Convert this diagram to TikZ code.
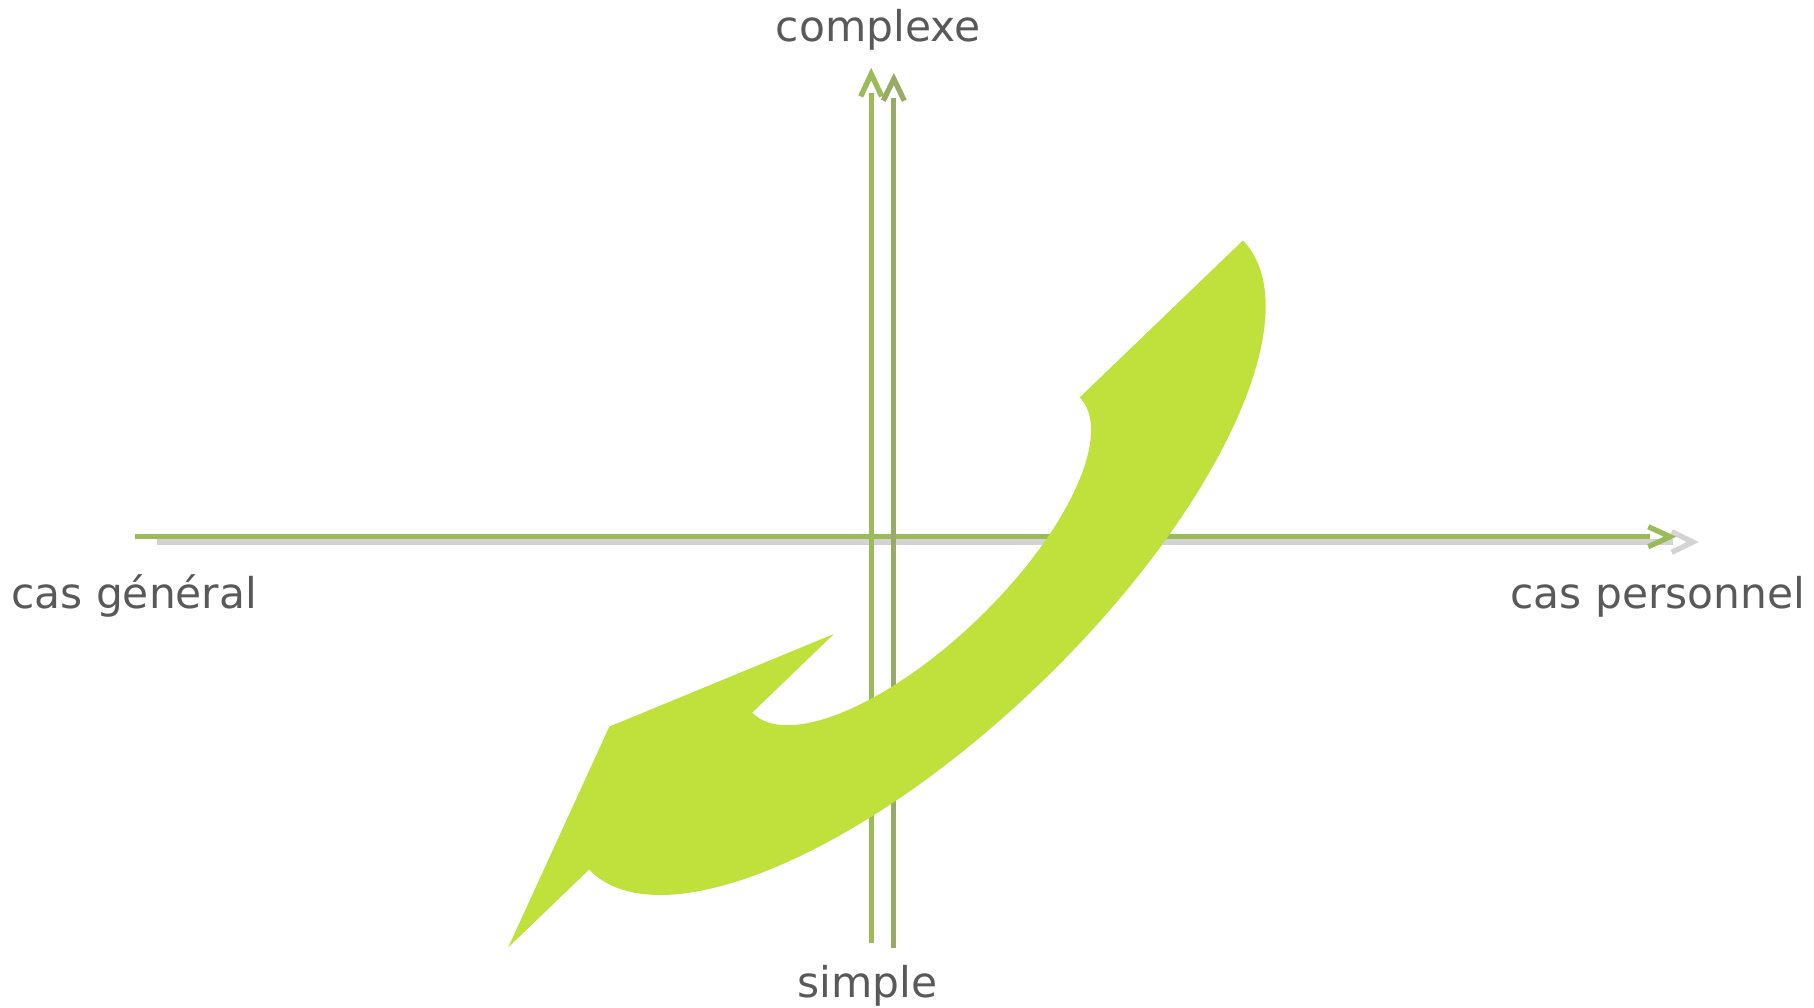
\documentclass[tikz,border=0pt]{standalone}
\usepackage{fontspec}
\setmainfont{DejaVu Sans}
\usetikzlibrary{calc}
\definecolor{axgreen}{HTML}{9BBB59}
\definecolor{axolive}{HTML}{98AA66}
\definecolor{axgray}{HTML}{D3D3D3}
\definecolor{bandgreen}{HTML}{C0E03C}
\definecolor{txtgray}{HTML}{595959}
\begin{document}
\begin{tikzpicture}[x=0.5pt,y=-0.5pt,
  axis/.style={line width=2.65pt},
  chev/.style={line width=2.65pt, line join=miter},
  lbl/.style={anchor=base, text=txtgray, font=\fontsize{21.2pt}{25pt}\selectfont, inner sep=0pt}]
\useasboundingbox (0,0) rectangle (1814,1007);
% horizontal axis: shadow then main
\coordinate (hgS) at (157,542);
\coordinate (hgE) at (1673,542);
\coordinate (hgT) at (1692.7,542);
\draw[axis, axgray] (hgS) -- (hgE);
\draw[chev, axgray] ($(hgT)+(-21,-10.3)$) -- (hgT) -- ($(hgT)+(-21,10.3)$);
\coordinate (hS) at (135,536.7);
\coordinate (hE) at (1650,536.7);
\coordinate (hT) at (1670,536.7);
\draw[axis, axgreen] (hS) -- (hE);
\draw[chev, axgreen] ($(hT)+(-21.7,-10)$) -- (hT) -- ($(hT)+(-21.7,10)$);
% vertical axis: shadow then main
\coordinate (vsS) at (893.8,948.3);
\coordinate (vsE) at (893.8,98);
\coordinate (vsT) at (893.8,79);
\draw[axis, axolive] (vsS) -- (vsE);
\draw[chev, axolive] ($(vsT)+(-10.5,21.7)$) -- (vsT) -- ($(vsT)+(10.5,21.7)$);
\coordinate (vS) at (871.2,943.3);
\coordinate (vE) at (871.2,93);
\coordinate (vT) at (871.2,74);
\draw[axis, axgreen] (vS) -- (vE);
\draw[chev, axgreen] ($(vT)+(-10.5,22.4)$) -- (vT) -- ($(vT)+(10.5,22.4)$);
% curved arrow
\begin{scope}[shift={(916,555)}, rotate=43.9]
  \fill[bandgreen] (453.7,0)
    arc[start angle=0, end angle=180, x radius=453.7, y radius=178.6]
    -- (-566,0) -- (-340,-89) -- (-113.9,0) -- (-227.3,0)
    arc[start angle=180, end angle=0, x radius=227.3, y radius=89]
    -- cycle;
\end{scope}
% labels
\node[lbl] (top) at (878,41.7) {complexe};
\node[lbl] (bot) at (867.7,997) {simple};
\node[lbl] (lft) at (134.2,608) {cas général};
\node[lbl] (rgt) at (1658,608) {cas personnel};
\end{tikzpicture}
\end{document}
